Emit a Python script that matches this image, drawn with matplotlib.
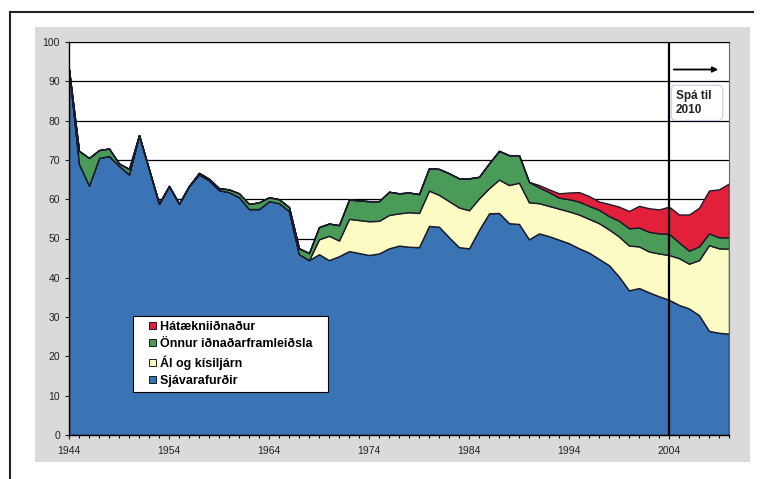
import matplotlib.pyplot as plt
import matplotlib.patches as mpatches
from matplotlib.legend_handler import HandlerPatch
from matplotlib.lines import Line2D
import numpy as np

plt.rcParams['font.family'] = ['Liberation Sans', 'DejaVu Sans']

years = np.arange(1944, 2011)

# Sjávarafurðir (blue)
sjavar = [93, 69, 63.5, 70.5, 71, 68.5, 66.3, 76.3, 67.5, 58.8,
          63.3, 58.8, 63.3, 66.3, 64.8, 62.3, 61.8, 60.5, 57.5, 57.5,
          59.5, 59, 57, 46, 44.5, 46, 44.5, 45.5, 46.8, 46.3,
          45.8, 46.2, 47.5, 48.2, 47.9, 47.8, 53.2, 53, 50.3, 47.8,
          47.5, 52.2, 56.4, 56.5, 53.9, 53.7, 49.8, 51.3, 50.6, 49.7,
          48.8, 47.5, 46.4, 44.8, 43.2, 40.3, 36.8, 37.4, 36.3, 35.3,
          34.4, 33.1, 32.2, 30.5, 26.5, 26, 25.8]

# Ál og kísiljárn (yellow)
al = [0] * 25 + [3.8, 6.2, 4.0, 8.2, 8.4,
                 8.6, 8.3, 8.5, 8.2, 8.8, 8.7, 9.0, 8.1, 9.2, 10.1,
                 9.7, 8.0, 6.4, 8.5, 9.7, 10.5, 9.4, 7.7, 7.7, 7.9,
                 8.1, 8.6, 8.6, 9.1, 9.1, 10.2, 11.4, 10.6, 10.4, 10.9,
                 11.4, 11.9, 11.4, 14.0, 21.8, 21.5, 21.6]

# Önnur iðnaðarframleiðsla (green)
onnur = [0, 3.3, 7.0, 2.0, 1.9, 0.6, 1.4, 0, 0.1, 0.1,
         0.1, 0.1, 0.1, 0.4, 0.4, 0.5, 0.7, 1.0, 1.3, 1.7,
         1.0, 1.0, 1.0, 1.5, 1.8, 3.1, 3.1, 3.9, 4.9, 5.0,
         5.1, 5.0, 5.9, 5.1, 5.0, 4.8, 5.7, 6.6, 7.1, 7.4,
         8.1, 5.5, 6.3, 7.3, 7.6, 7.0, 5.2, 4.0, 3.5, 2.8,
         3.1, 3.3, 3.3, 3.4, 3.4, 4.0, 4.4, 4.8, 5.0, 5.1,
         5.4, 4.0, 3.3, 3.5, 3.0, 2.8, 2.9]

# Hátækniiðnaður (red)
hataekni = [0] * 47 + [0.6, 0.7, 1.1,
                       1.7, 2.4, 2.5, 2.1, 3.1, 3.6, 4.4, 5.5, 6.0, 6.1,
                       6.9, 7.1, 9.2, 9.8, 10.9, 12.2, 13.7]

labels = ['Sjávarafurðir', 'Ál og kísiljárn', 'Önnur iðnaðarframleiðsla', 'Hátækniiðnaður']
colors = ['#3a74b4', '#fdfbc4', '#4a9a58', '#e3203a']

fig = plt.figure(figsize=(7.63, 4.79), dpi=100)
fig.patch.set_facecolor('white')

# gray chart area + scan frame
bg = mpatches.Rectangle((35 / 763, 1 - 462 / 479), 715 / 763, 435 / 479,
                        transform=fig.transFigure, facecolor='#dadada',
                        edgecolor='none', zorder=-5)
fig.patches.append(bg)
fig.lines.append(Line2D([10 / 763, 753 / 763], [1 - 12 / 479, 1 - 12 / 479],
                        transform=fig.transFigure, color='#222222', lw=1.5, zorder=-4))
fig.lines.append(Line2D([10 / 763, 10 / 763], [1 - 12 / 479, 0], transform=fig.transFigure,
                        color='#222222', lw=1.5, zorder=-4))

ax = fig.add_axes([69 / 763, 1 - 435 / 479, 660 / 763, 393 / 479])
ax.set_zorder(2)
ax.set_facecolor('white')

ax.stackplot(years, sjavar, al, onnur, hataekni, colors=colors,
             edgecolor='#1a1a2a', linewidth=1.0, zorder=2)

ax.set_xlim(1944, 2010)
ax.set_ylim(0, 100)
ax.set_yticks(np.arange(0, 101, 10))
ax.set_xticks(np.arange(1944, 2005, 10))
ax.set_xticks(np.arange(1944, 2011, 1), minor=True)
ax.yaxis.grid(True, color='black', linewidth=0.9, zorder=1)
ax.set_axisbelow(True)
ax.tick_params(axis='both', labelsize=7.5, colors='#222222', length=3, width=0.8)
ax.tick_params(axis='x', which='minor', length=2.5, width=0.8)
ax.tick_params(axis='x', pad=5)
for s in ['left', 'bottom']:
    ax.spines[s].set_color('black')
    ax.spines[s].set_linewidth(1.0)
ax.spines['top'].set_color('black')
ax.spines['right'].set_color('#666666')

# forecast marker
ax.axvline(2004, color='black', linewidth=1.6, zorder=4)
ax.annotate('', xy=(2009.2, 93), xytext=(2004.2, 93),
            arrowprops=dict(arrowstyle='-|>', color='black', lw=1.3, mutation_scale=8), zorder=5)
ax.text(2004.7, 87.8, 'Spá til  \n2010', fontsize=8.5, fontweight='bold', color='#222222',
        va='top', ha='left', linespacing=1.2, zorder=5,
        bbox=dict(boxstyle='round,pad=0.4', facecolor='white', edgecolor='#c8cce0', lw=0.8))


def small_square(legend, orig_handle, xdescent, ydescent, width, height, fontsize):
    s = 0.55 * fontsize
    return mpatches.Rectangle((-xdescent + width - s, -ydescent + (height - s) / 2), s, s)


handles = [mpatches.Patch(facecolor=colors[i], edgecolor='black', linewidth=0.6,
                          label=labels[i] + '\u00a0\u00a0\u00a0')
           for i in [3, 2, 1, 0]]
leg = ax.legend(handles=handles, loc='upper left', bbox_to_anchor=(0.097, 0.303),
                prop={'weight': 'bold', 'size': 9}, frameon=True, fancybox=False,
                framealpha=1, edgecolor='black', handlelength=1.45, handleheight=0.7,
                handletextpad=0.3, labelspacing=0.42, borderpad=0.4, borderaxespad=0,
                handler_map={mpatches.Patch: HandlerPatch(patch_func=small_square)})
leg.get_frame().set_linewidth(0.8)
leg.set_zorder(6)

fig.savefig('out.png', dpi=100)
